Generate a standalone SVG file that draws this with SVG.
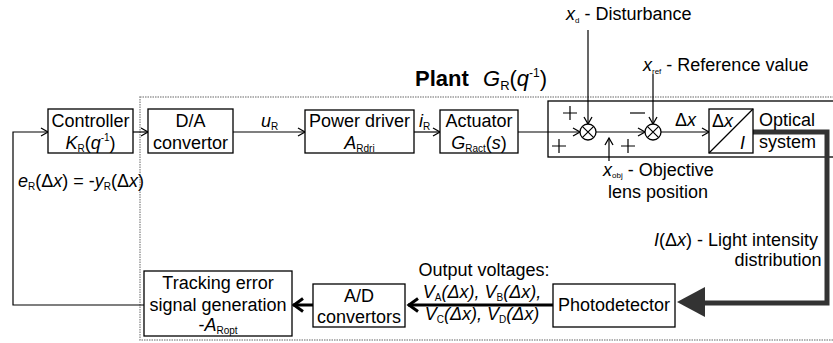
<svg xmlns="http://www.w3.org/2000/svg" width="833" height="343" viewBox="0 0 833 343">
<style>
.t{font-family:"Liberation Sans",Arial,sans-serif;font-size:18px;fill:#000}
.s{font-size:10px}
.i{font-style:italic}
.box{fill:#fff;stroke:#000;stroke-width:1.3}
.ln{fill:none;stroke:#000;stroke-width:1.2}
.thk{fill:none;stroke:#000;stroke-width:3}
</style>
<defs>
<marker id="a" markerWidth="10" markerHeight="10" refX="8" refY="5" orient="auto" markerUnits="userSpaceOnUse">
<path d="M1,1 L8,5 L1,9" fill="none" stroke="#000" stroke-width="1.3"/>
</marker>
<marker id="b" markerWidth="14" markerHeight="16" refX="12" refY="8" orient="auto" markerUnits="userSpaceOnUse">
<path d="M2,1.5 L11,8 L2,14.5" fill="none" stroke="#000" stroke-width="3"/>
</marker>
</defs>

<g id="plant">
<rect x="140" y="97" width="720" height="243" fill="none" stroke="#999" stroke-width="1.5" stroke-dasharray="1.5,1"/>
<text class="t" x="415" y="86" style="font-weight:bold;font-size:22px">Plant</text>
<text class="t" x="483" y="86" style="font-size:22px"><tspan class="i">G</tspan><tspan style="font-size:13px" dy="4">R</tspan><tspan dy="-4">(</tspan><tspan class="i">q</tspan><tspan style="font-size:12px" dy="-9">-1</tspan><tspan dy="9">)</tspan></text>
</g>

<g id="sumbox">
<rect x="548" y="101" width="300" height="56" class="box"/>
</g>

<g id="connectors">
<path class="ln" d="M144,305 H13 V132 H48" marker-end="url(#a)"/>
<path class="ln" d="M133,132 H148" marker-end="url(#a)"/>
<path class="ln" d="M233,132 H305" marker-end="url(#a)"/>
<path class="ln" d="M414,132 H440" marker-end="url(#a)"/>
<path class="ln" d="M518,132 H580" marker-end="url(#a)"/>
<path class="ln" d="M596,132 H645" marker-end="url(#a)"/>
<path class="ln" d="M661,132 H709" marker-end="url(#a)"/>
<path class="ln" d="M588,30 V124" marker-end="url(#a)"/>
<path class="ln" d="M653,74 V124" marker-end="url(#a)"/>
<path class="ln" d="M609,161 V138" marker-end="url(#a)"/>
<path d="M753,132 H827 V303 H700" fill="none" stroke="#333" stroke-width="5"/>
<path d="M677,302 L705,287 L705,317 Z" fill="#333"/>
<path class="thk" d="M553,305 H408" marker-end="url(#b)"/>
<path class="thk" d="M313,305 H293" marker-end="url(#b)"/>
</g>

<g id="controller">
<rect x="48" y="109" width="85" height="44" class="box"/>
<text class="t" x="90.5" y="127" text-anchor="middle">Controller</text>
<text class="t" x="90.5" y="149" text-anchor="middle"><tspan class="i">K</tspan><tspan class="s" dy="3">R</tspan><tspan dy="-3">(</tspan><tspan class="i">q</tspan><tspan class="s" dy="-8">-1</tspan><tspan dy="8">)</tspan></text>
</g>

<g id="da">
<rect x="148" y="109" width="85" height="44" class="box"/>
<text class="t" x="190.5" y="127" text-anchor="middle">D/A</text>
<text class="t" x="190.5" y="149" text-anchor="middle">convertor</text>
</g>
<text class="t" x="261" y="127"><tspan class="i">u</tspan><tspan class="s" dy="3">R</tspan></text>

<g id="powerdriver">
<rect x="305" y="110" width="109" height="43" class="box"/>
<text class="t" x="359.5" y="127" text-anchor="middle">Power driver</text>
<text class="t" x="359.5" y="149" text-anchor="middle"><tspan class="i">A</tspan><tspan class="s" dy="3">Rdri</tspan></text>
</g>
<text class="t" x="419" y="127"><tspan class="i">i</tspan><tspan class="s" dy="3">R</tspan></text>

<g id="actuator">
<rect x="440" y="110" width="78" height="43" class="box"/>
<text class="t" x="479" y="127" text-anchor="middle">Actuator</text>
<text class="t" x="479" y="149" text-anchor="middle"><tspan class="i">G</tspan><tspan class="s" dy="3">Ract</tspan><tspan dy="-3">(</tspan><tspan class="i">s</tspan>)</text>
</g>

<g id="sum1">
<circle cx="588" cy="132" r="8" class="box"/>
<path class="ln" d="M582.3,126.3 L593.7,137.7 M593.7,126.3 L582.3,137.7"/>
</g>
<g id="sum2">
<circle cx="653" cy="132" r="8" class="box"/>
<path class="ln" d="M647.3,126.3 L658.7,137.7 M658.7,126.3 L647.3,137.7"/>
</g>
<g id="signs" stroke="#000" stroke-width="1.2">
<path d="M563,113 H577 M570,106 V120"/>
<path d="M552,146 H566 M559,139 V153"/>
<path d="M621,146 H635 M628,139 V153"/>
<path d="M630,113 H645"/>
</g>

<text class="t" x="566" y="20"><tspan class="i">x</tspan><tspan style="font-size:8px" dy="3">d</tspan><tspan dy="-3"> - Disturbance</tspan></text>
<text class="t" x="643" y="71"><tspan class="i">x</tspan><tspan style="font-size:8px" dy="3">ref</tspan><tspan dy="-3"> - Reference value</tspan></text>
<text class="t" x="603" y="176"><tspan class="i">x</tspan><tspan style="font-size:8px" dy="2">obj</tspan><tspan dy="-2"> - Objective</tspan></text>
<text class="t" x="658" y="198" text-anchor="middle">lens position</text>
<text class="t" x="675" y="126">Δ<tspan class="i">x</tspan></text>

<g id="optical">
<rect x="709" y="109" width="44" height="44" class="box"/>
<path class="ln" d="M709,153 L753,109"/>
<text class="t" x="712" y="127">Δ<tspan class="i">x</tspan></text>
<text class="t i" x="740" y="149">I</text>
<text class="t" x="759" y="126">Optical</text>
<text class="t" x="759" y="148">system</text>
</g>

<text class="t" x="818" y="246" text-anchor="end"><tspan class="i">I</tspan>(Δ<tspan class="i">x</tspan>) - Light intensity</text>
<text class="t" x="778" y="266" text-anchor="middle">distribution</text>

<g id="photodetector">
<rect x="553" y="284" width="122" height="43" class="box"/>
<text class="t" x="614" y="311" text-anchor="middle">Photodetector</text>
</g>

<text class="t" x="484" y="276" text-anchor="middle">Output voltages:</text>
<text class="t" x="482" y="298" text-anchor="middle" style="font-style:italic">V<tspan class="s" dy="3" style="font-style:normal">A</tspan><tspan dy="-3">(Δx), V</tspan><tspan class="s" dy="3" style="font-style:normal">B</tspan><tspan dy="-3">(Δx),</tspan></text>
<text class="t" x="482" y="320" text-anchor="middle" style="font-style:italic">V<tspan class="s" dy="3" style="font-style:normal">C</tspan><tspan dy="-3">(Δx), V</tspan><tspan class="s" dy="3" style="font-style:normal">D</tspan><tspan dy="-3">(Δx)</tspan></text>

<g id="ad">
<rect x="313" y="284" width="92" height="43" class="box"/>
<text class="t" x="359" y="302" text-anchor="middle">A/D</text>
<text class="t" x="359" y="323" text-anchor="middle">convertors</text>
</g>

<g id="tracking">
<rect x="144" y="271" width="148" height="65" class="box"/>
<text class="t" x="218" y="289" text-anchor="middle">Tracking error</text>
<text class="t" x="218" y="311" text-anchor="middle">signal generation</text>
<text class="t" x="218" y="331" text-anchor="middle">-<tspan class="i">A</tspan><tspan class="s" dy="3">Ropt</tspan></text>
</g>

<text class="t" x="18" y="187"><tspan class="i">e</tspan><tspan class="s" dy="3">R</tspan><tspan dy="-3">(Δ</tspan><tspan class="i">x</tspan>) = -<tspan class="i">y</tspan><tspan class="s" dy="3">R</tspan><tspan dy="-3">(Δ</tspan><tspan class="i">x</tspan>)</text>
</svg>
